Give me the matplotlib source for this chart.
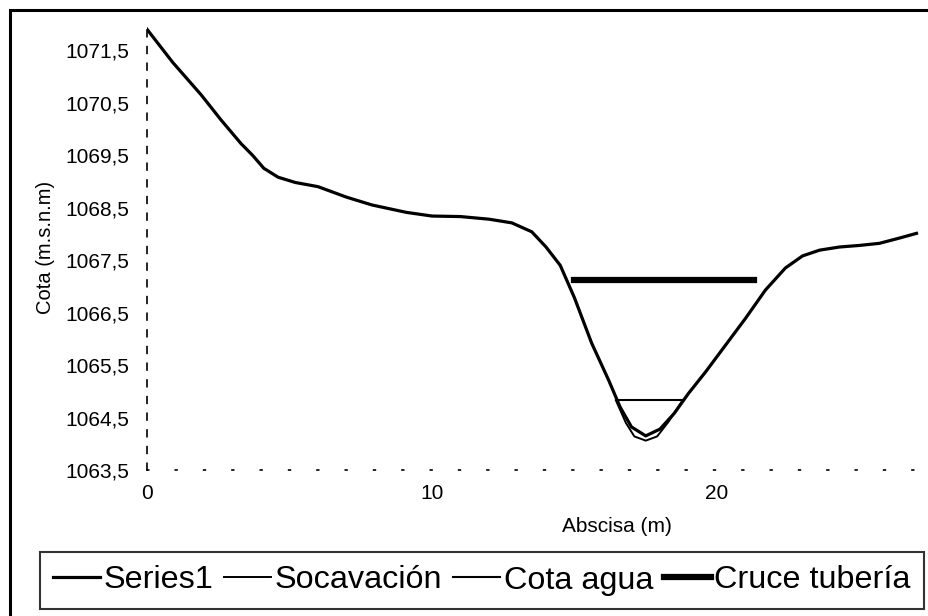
import matplotlib
matplotlib.use('Agg')
import matplotlib.pyplot as plt
from matplotlib.patches import Rectangle
from matplotlib.ticker import FixedLocator, FuncFormatter

plt.rcParams['font.family'] = ['Liberation Sans', 'DejaVu Sans']

# Perfil del terreno (Series1)
abscisa = [0, 0.9, 1.9, 2.6, 3.3, 3.7, 4.1, 4.6, 5.2, 6.0, 7.0, 7.9, 9.1, 10.0,
           11.0, 12.0, 12.8, 13.5, 14.0, 14.5, 15.0, 15.6, 16.2, 16.6, 17.0,
           17.5, 18.0, 18.5, 19.0, 19.6, 20.3, 21.0, 21.7, 22.4, 23.0, 23.6,
           24.3, 25.0, 25.7, 26.4, 27.0]
cota = [1071.9, 1071.27, 1070.65, 1070.17, 1069.72, 1069.5, 1069.25, 1069.08,
        1068.98, 1068.9, 1068.7, 1068.55, 1068.41, 1068.34, 1068.33, 1068.28,
        1068.21, 1068.04, 1067.75, 1067.4, 1066.78, 1065.92, 1065.21, 1064.7,
        1064.32, 1064.15, 1064.28, 1064.58, 1064.96, 1065.37, 1065.88, 1066.39,
        1066.93, 1067.35, 1067.58, 1067.69, 1067.75, 1067.78, 1067.82, 1067.92,
        1068.01]

# Socavacion
abs_soc = [16.45, 16.8, 17.1, 17.5, 17.9, 18.3, 18.8]
cota_soc = [1064.83, 1064.4, 1064.14, 1064.06, 1064.14, 1064.42, 1064.83]

# Cota agua
abs_agua = [16.49, 18.8]
cota_agua = [1064.83, 1064.83]

# Cruce tuberia
abs_tub = [15.0, 21.3]
cota_tub = [1067.12, 1067.12]

yticks = [1063.5, 1064.5, 1065.5, 1066.5, 1067.5, 1068.5, 1069.5, 1070.5, 1071.5]
xticks = [0, 10, 20]

W, H = 929, 616
fig = plt.figure(figsize=(W / 100, H / 100), dpi=100)
ax = fig.add_axes([147 / W, 1 - 470 / H, (W - 147) / W, (470 - 24) / H])

ax.plot(abs_soc, cota_soc, color='black', lw=1.4, label='Socavación')
ax.plot(abscisa, cota, color='black', lw=2.3, label='Series1')
ax.plot(abs_agua, cota_agua, color='black', lw=1.5, label='Cota agua')
ax.plot(abs_tub, cota_tub, color='black', lw=4.5, label='Cruce tubería')

ax.set_xlim(0, (W - 147) / 28.5)
ax.set_ylim(1063.5, 1072.0)
ax.yaxis.set_major_locator(FixedLocator(yticks))
ax.xaxis.set_major_locator(FixedLocator(xticks))
ax.yaxis.set_major_formatter(FuncFormatter(lambda v, p: f'{v:.1f}'.replace('.', ',')))
ax.tick_params(axis='both', length=0, labelsize=15)
ax.tick_params(axis='y', pad=13)
ax.tick_params(axis='x', pad=10)

for s in ['top', 'right']:
    ax.spines[s].set_visible(False)
ax.spines['left'].set_linestyle((0, (4, 6)))
ax.spines['left'].set_linewidth(1.2)
ax.spines['bottom'].set_linestyle((0, (1, 16)))
ax.spines['bottom'].set_linewidth(1.2)
ax.patch.set_visible(False)

ax.set_ylabel('Cota (m.s.n.m)', fontsize=14.5)
ax.yaxis.set_label_coords((55 - 147) / (W - 147), 0.5)
ax.set_xlabel('Abscisa (m)', fontsize=15)
ax.xaxis.set_label_coords((617 - 147) / (W - 147), (470 - 517) / (470 - 24))

h, l = ax.get_legend_handles_labels()
order = [1, 0, 2, 3]
leg = fig.legend([h[i] for i in order], [l[i] for i in order], ncol=4,
                 loc='center', bbox_to_anchor=(482 / W, 1 - 580.5 / H),
                 fontsize=23.3, handlelength=1.45, handletextpad=0.1,
                 columnspacing=0.35, borderpad=0.42, fancybox=False, frameon=True)
leg.get_frame().set_edgecolor('black')
leg.get_frame().set_linewidth(1.5)

# marco exterior
fig.patches.append(Rectangle((10 / W, -0.1), 1.2, 1 - 10 / H + 0.1,
                             transform=fig.transFigure, fill=False,
                             edgecolor='black', lw=2.2))

fig.savefig('out.png', dpi=100)
